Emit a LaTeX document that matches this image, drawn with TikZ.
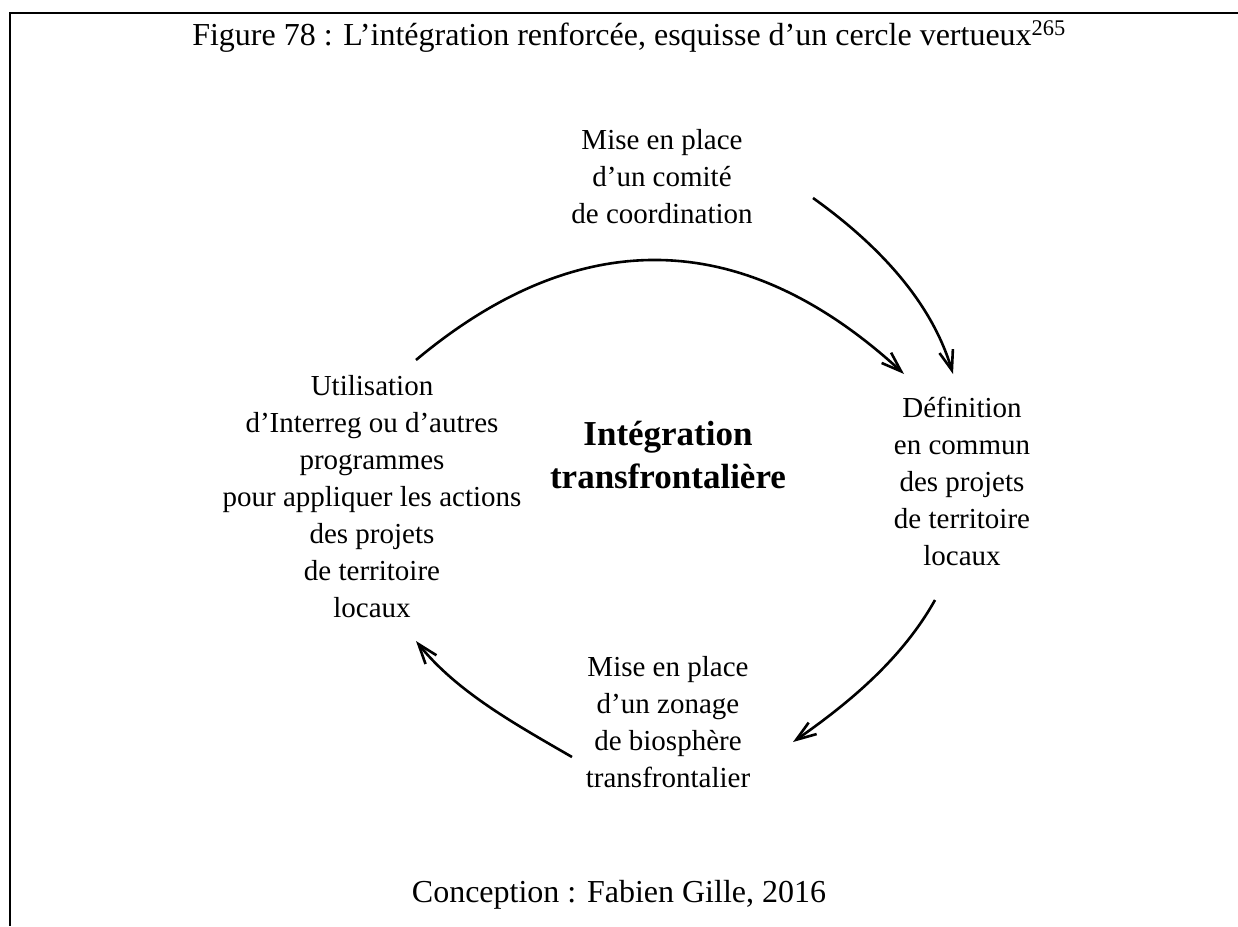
\documentclass[tikz,border=0pt]{standalone}
\usepackage{fontspec}
\setmainfont{Liberation Serif}
\usetikzlibrary{arrows.meta}
\begin{document}
\begin{tikzpicture}[x=1pt,y=-1pt,
  txt/.style={inner sep=0pt, align=center, font=\fontsize{29}{37}\selectfont},
  head/.style={inner sep=0pt, align=center, font=\fontsize{32}{38}\selectfont},
  bold/.style={inner sep=0pt, align=center, font=\fontsize{35}{43}\selectfont\bfseries},
  frame/.style={line width=2.3pt},
  arr/.style={line width=2.6pt, -{Straight Barb[length=20pt,width=14pt]}}]
\useasboundingbox (0,0) rectangle (1238,926);
\draw[frame] (1238,13) -- (10,13) -- (10,926);
\node[head, anchor=base] (title) at (629,45) {Figure 78 : L’intégration renforcée, esquisse d’un cercle vertueux\textsuperscript{265}};
\node[txt, anchor=north] (top) at (662,129) {Mise en place\\d’un comité\\de coordination};
\node[txt, anchor=north] (left) at (372,375) {Utilisation\\d’Interreg ou d’autres\\programmes\\pour appliquer les actions\\des projets\\de territoire\\locaux};
\node[txt, anchor=north] (right) at (962,397) {Définition\\en commun\\des projets\\de territoire\\locaux};
\node[txt, anchor=north] (bottom) at (668,656) {Mise en place\\d’un zonage\\de biosphère\\transfrontalier};
\node[bold, anchor=north] (center) at (668,421) {Intégration\\transfrontalière};
\node[head, anchor=base] (credit) at (619,902) {Conception : Fabien Gille, 2016};
\coordinate (s1) at (416,360); \coordinate (e1) at (904,374);
\coordinate (s2) at (813,198); \coordinate (e2) at (953,374);
\coordinate (s3) at (935,600); \coordinate (e3) at (793,742);
\coordinate (s4) at (572,757); \coordinate (e4) at (416,641);
\draw[arr] (s1) .. controls +(165,-138) and +(-159,-146) .. (e1);
\draw[arr] (s2) .. controls +(63,45) and +(-22,-74) .. (e2);
\draw[arr] (s3) .. controls +(-33,59) and +(56,-39) .. (e3);
\draw[arr] (s4) .. controls +(-57,-33) and +(41,51) .. (e4);
\end{tikzpicture}
\end{document}
